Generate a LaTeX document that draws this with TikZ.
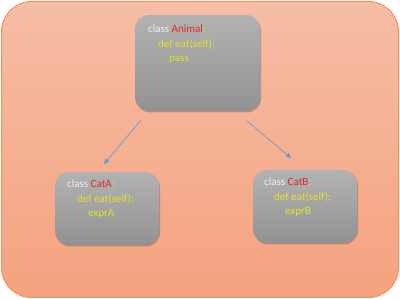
\documentclass[tikz,border=0pt]{standalone}
\usepackage{fontspec}
\setmainfont{Carlito}
\usetikzlibrary{shadows,arrows.meta}
\definecolor{bgtop}{HTML}{F6BDA5}
\definecolor{bgbot}{HTML}{F5A27F}
\definecolor{bgedge}{HTML}{EE9460}
\definecolor{boxtop}{HTML}{B2B2B2}
\definecolor{boxbot}{HTML}{929292}
\definecolor{kwwhite}{HTML}{F0F0F0}
\definecolor{kwred}{HTML}{E8262B}
\definecolor{kwyel}{HTML}{E2E22C}
\definecolor{arr}{HTML}{5B9BD5}
\tikzset{
  classbox/.style={draw=none, rounded corners=14pt, top color=boxtop, bottom color=boxbot,
    drop shadow={shadow xshift=1pt, shadow yshift=-1.5pt, opacity=0.45, fill=black!60}},
  code/.style={anchor=north west, inner sep=0pt, align=left, font=\fontsize{11}{14.5}\selectfont, text=kwyel},
  inherit/.style={draw=arr, line width=0.6pt, -{Triangle[length=5pt,width=4.5pt]}}
}
\newcommand{\kwW}[1]{\textcolor{kwwhite}{#1}}
\newcommand{\kwR}[1]{\textcolor{kwred}{#1}}
\begin{document}
\begin{tikzpicture}[x=1pt,y=-1pt]
\useasboundingbox (0,0) rectangle (400,299);
\node[draw=bgedge, line width=1pt, rounded corners=30pt, top color=bgtop, bottom color=bgbot,
  minimum width=397pt, minimum height=296pt, inner sep=0pt] (bg) at (200,149.5) {};
% boxes
\node[classbox, minimum width=125pt, minimum height=96pt, inner sep=0pt] (animal) at (197.5,63) {};
\node[classbox, minimum width=104pt, minimum height=73pt, inner sep=0pt] (cata) at (107,208.5) {};
\node[classbox, minimum width=104pt, minimum height=73pt, inner sep=0pt] (catb) at (305,206.5) {};
% texts
\node[code] (ta) at (148,25) {\kwW{class} \kwR{Animal}:\\\hspace*{10pt}def eat(self):\\\hspace*{21pt}pass};
\node[code] (tca) at (67,180) {\kwW{class} \kwR{CatA}:\\\hspace*{10pt}def eat(self):\\\hspace*{21pt}exprA};
\node[code] (tcb) at (264,178) {\kwW{class} \kwR{CatB}:\\\hspace*{10pt}def eat(self):\\\hspace*{21pt}exprB};
% connectors
\coordinate (a1) at (141,120);
\coordinate (a2) at (104,164);
\coordinate (b1) at (247,121);
\coordinate (b2) at (291,158);
\draw[inherit] (a1) -- (a2);
\draw[inherit] (b1) -- (b2);
\end{tikzpicture}
\end{document}
